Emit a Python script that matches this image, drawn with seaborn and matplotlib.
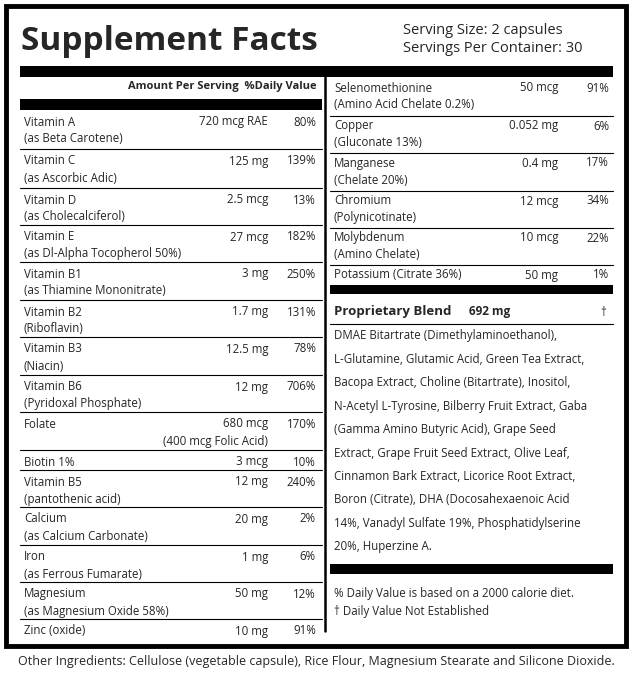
import matplotlib
matplotlib.use("Agg")
import matplotlib.pyplot as plt
import seaborn as sns
from matplotlib.patches import Rectangle

sns.set_style("white")
plt.rcParams['font.family'] = ['Open Sans', 'DejaVu Sans']

left_names = [("Vitamin A", "(as Beta Carotene)"), ("Vitamin C", "(as Ascorbic Adic)"),
              ("Vitamin D", "(as Cholecalciferol)"), ("Vitamin E", "(as Dl-Alpha Tocopherol 50%)"),
              ("Vitamin B1", "(as Thiamine Mononitrate)"), ("Vitamin B2", "(Riboflavin)"),
              ("Vitamin B3", "(Niacin)"), ("Vitamin B6", "(Pyridoxal Phosphate)"),
              ("Folate", ""), ("Biotin 1%", None), ("Vitamin B5", "(pantothenic acid)"),
              ("Calcium", "(as Calcium Carbonate)"), ("Iron", "(as Ferrous Fumarate)"),
              ("Magnesium", "(as Magnesium Oxide 58%)"), ("Zinc (oxide)", None)]
left_amounts = ["720 mcg RAE", "125 mg", "2.5 mcg", "27 mcg", "3 mg", "1.7 mg", "12.5 mg", "12 mg",
                "680 mcg", "3 mcg", "12 mg", "20 mg", "1 mg", "50 mg", "10 mg"]
left_dv = ["80%", "139%", "13%", "182%", "250%", "131%", "78%", "706%", "170%", "10%", "240%",
           "2%", "6%", "12%", "91%"]
right_names = [("Selenomethionine", "(Amino Acid Chelate 0.2%)"), ("Copper", "(Gluconate 13%)"),
               ("Manganese", "(Chelate 20%)"), ("Chromium", "(Polynicotinate)"),
               ("Molybdenum", "(Amino Chelate)"), ("Potassium (Citrate 36%)", None)]
right_amounts = ["50 mcg", "0.052 mg", "0.4 mg", "12 mcg", "10 mcg", "50 mg"]
right_dv = ["91%", "6%", "17%", "34%", "22%", "1%"]
blend_lines = ["DMAE Bitartrate (Dimethylaminoethanol),",
               "L-Glutamine, Glutamic Acid, Green Tea Extract,",
               "Bacopa Extract, Choline (Bitartrate), Inositol,",
               "N-Acetyl L-Tyrosine, Bilberry Fruit Extract, Gaba",
               "(Gamma Amino Butyric Acid), Grape Seed",
               "Extract, Grape Fruit Seed Extract, Olive Leaf,",
               "Cinnamon Bark Extract, Licorice Root Extract,",
               "Boron (Citrate), DHA (Docosahexaenoic Acid",
               "14%, Vanadyl Sulfate 19%, Phosphatidylserine",
               "20%, Huperzine A."]

fig = plt.figure(figsize=(6.31, 6.78), dpi=100)
ax = fig.add_axes([0, 0, 1, 1])
ax.set_xlim(0, 631); ax.set_ylim(678, 0); ax.axis("off")

def bar(x0, x1, y0, y1):
    ax.add_patch(Rectangle((x0, y0), x1 - x0, y1 - y0, color="black", lw=0))

def hline(x0, x1, y, lw=0.8):
    ax.plot([x0, x1], [y, y], color="black", lw=lw)

ax.add_patch(Rectangle((6, 6), 620, 640, fill=False, ec="black", lw=3.5))
ax.text(21, 42, "Supplement Facts", fontsize=24, fontweight="bold", va="center", ha="left")
ax.text(403, 31, "Serving Size: 2 capsules", fontsize=10.5, va="center")
ax.text(403, 49, "Servings Per Container: 30", fontsize=10.5, va="center")
bar(20, 613, 66, 77)
ax.plot([325, 325], [77, 631], color="black", lw=1.8)

fs = 8.3
ax.text(317, 87, "Amount Per Serving  %Daily Value", fontsize=8, fontweight="bold", ha="right", va="center")
bar(20, 322, 99, 110)
bounds = [110, 149, 188, 225, 262, 300, 337, 375, 412, 450, 470, 507, 545, 582, 619, 636]
for i, (n1, n2) in enumerate(left_names):
    y0 = bounds[i]
    ax.text(24, y0 + 12, n1, fontsize=fs, va="center")
    ax.text(268, y0 + 12, left_amounts[i], fontsize=fs, va="center", ha="right")
    ax.text(316, y0 + 12, left_dv[i], fontsize=fs, va="center", ha="right")
    if n2:
        ax.text(24, y0 + 29, n2, fontsize=fs, va="center")
    if i == 8:
        ax.text(268, y0 + 29, "(400 mcg Folic Acid)", fontsize=fs, va="center", ha="right")
    if i < len(left_names) - 1:
        hline(20, 322, bounds[i + 1])

rb = [78, 116, 153, 191, 228, 265, 284]
for i, (n1, n2) in enumerate(right_names):
    y0 = rb[i]
    ax.text(334, y0 + 10, n1, fontsize=fs, va="center")
    ax.text(558, y0 + 10, right_amounts[i], fontsize=fs, va="center", ha="right")
    ax.text(609, y0 + 10, right_dv[i], fontsize=fs, va="center", ha="right")
    if n2:
        ax.text(334, y0 + 27, n2, fontsize=fs, va="center")
    if i < len(right_names) - 1:
        hline(330, 613, rb[i + 1])
bar(330, 613, 285, 294)
ax.text(334, 312, "Proprietary Blend", fontsize=9.5, fontweight="bold", va="center")
ax.text(490, 312, "692 mg", fontsize=8.5, fontweight="bold", va="center", ha="center")
ax.text(606, 312, "†", fontsize=fs, va="center", ha="right")
hline(330, 613, 324)
for k, line in enumerate(blend_lines):
    ax.text(334, 336 + 23.4 * k, line, fontsize=fs, va="center")
bar(330, 613, 564, 574)
ax.text(334, 593, "% Daily Value is based on a 2000 calorie diet.", fontsize=fs, va="center")
ax.text(334, 611, "† Daily Value Not Established", fontsize=fs, va="center")
ax.text(316, 661, "Other Ingredients: Cellulose (vegetable capsule), Rice Flour, Magnesium Stearate and Silicone Dioxide.",
        fontsize=9, va="center", ha="center")

fig.savefig("out.png", dpi=100)
